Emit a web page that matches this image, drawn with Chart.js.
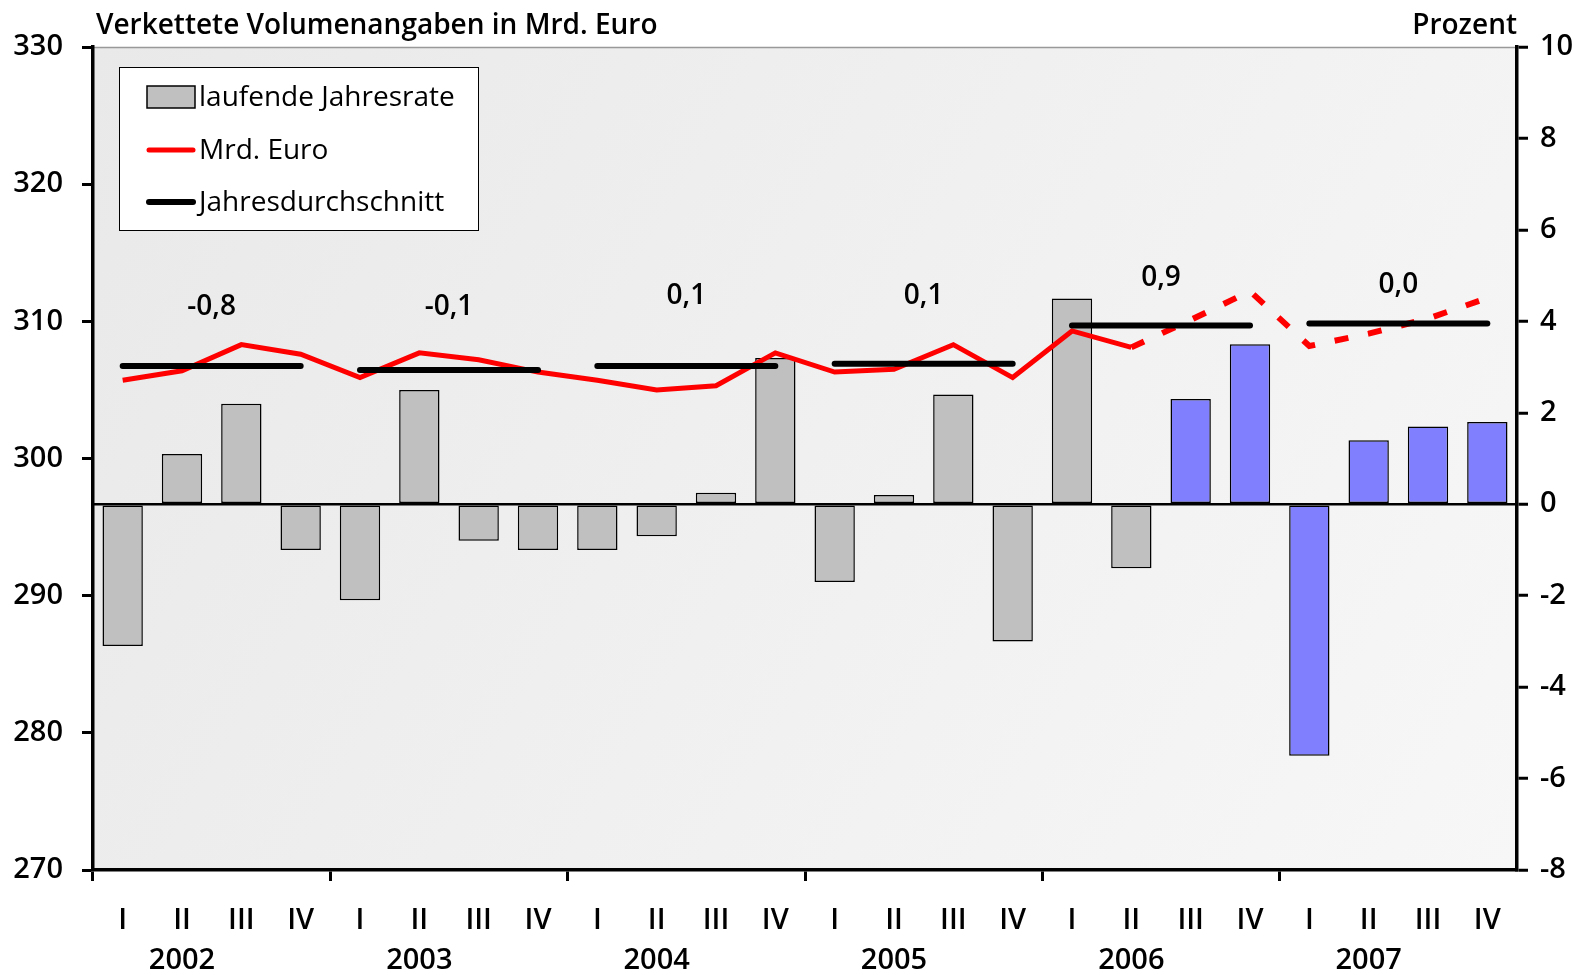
<!DOCTYPE html>
<html lang="de">
<head>
<meta charset="utf-8">
<title>Verkettete Volumenangaben in Mrd. Euro</title>
<script src="https://cdn.jsdelivr.net/npm/chart.js@4.4.1/dist/chart.umd.min.js"></script>
<style>
  html, body { margin: 0; padding: 0; background: #fff; }
  #chart { display: block; }
</style>
</head>
<body>
<canvas id="chart" width="1579" height="975"></canvas>
<script>
// Vierteljahreswerte 2002 - 2007, ab 2006 III Prognose

const FONT = "'Open Sans', 'Noto Sans', sans-serif";

const years = ['2002', '2003', '2004', '2005', '2006', '2007'];
const quarters = ['I', 'II', 'III', 'IV'];

// laufende Jahresrate in Prozent (rechte Achse)
const jahresrate = [-3.1, 1.1, 2.2, -1.0, -2.1, 2.5, -0.8, -1.0, -1.0, -0.7, 0.25, 3.2,
                    -1.7, 0.2, 2.4, -3.0, 4.5, -1.4, 2.3, 3.5, -5.5, 1.4, 1.7, 1.8];

// Mrd. Euro (linke Achse)
const mrdEuro = [305.7, 306.4, 308.3, 307.6, 305.9, 307.7, 307.2, 306.3, 305.7, 305.0, 305.3, 307.7,
                 306.3, 306.5, 308.3, 305.9, 309.3, 308.1, 310.1, 312.2, 308.2, 309.1, 310.2, 311.7];

// Jahresdurchschnitt in Mrd. Euro, je Jahr
const jahresdurchschnitt = [306.75, 306.45, 306.75, 306.9, 309.7, 309.85];
// Veraenderung gegenueber Vorjahr, als Beschriftung
const jahresVeraenderung = ['-0,8', '-0,1', '0,1', '0,1', '0,9', '0,0'];
const beschriftungHoehe = [311.05, 311.05, 311.85, 311.85, 313.15, 312.65];

const prognoseStart = 18; // erster Prognosewert: 2006 III

const leftTicks = { min: 270, max: 330, step: 10 };
const rightTicks = { min: -8, max: 10, step: 2 };

const titelLinks = 'Verkettete Volumenangaben in Mrd. Euro';
const titelRechts = 'Prozent';

const GRAY = '#c0c0c0';
const BLUE = '#8080ff';
const RED = '#ff0000';

// Jahreszahl steht unter dem II. Quartal
const categories = years.flatMap(y => quarters.map((q, j) => j === 1 ? [q, y] : q));
const durchschnittProQuartal = categories.map((_, i) => jahresdurchschnitt[Math.floor(i / 4)]);

/**
 * Hintergrund, Titel, Jahresbeschriftung und Legende
 */
const zeichnung = {
  id: 'zeichnung',
  beforeDraw(chart) {
    const { ctx, chartArea: a } = chart;
    ctx.save();
    const g = ctx.createLinearGradient(a.left, a.top, a.right, a.bottom);
    g.addColorStop(0, '#e9e9e9');
    g.addColorStop(1, '#f7f7f7');
    ctx.fillStyle = g;
    ctx.fillRect(a.left, a.top, a.right - a.left, a.bottom - a.top);
    ctx.strokeStyle = '#999';
    ctx.lineWidth = 1.5;
    ctx.beginPath();
    ctx.moveTo(a.left, a.top + 0.5);
    ctx.lineTo(a.right, a.top + 0.5);
    ctx.stroke();

    ctx.fillStyle = '#000';
    ctx.font = `600 28px ${FONT}`;
    ctx.textBaseline = 'middle';
    ctx.textAlign = 'left';
    ctx.fillText(titelLinks, a.left + 3, 26);
    ctx.textAlign = 'right';
    ctx.fillText(titelRechts, a.right, 26);
    ctx.restore();
  },
  afterDatasetsDraw(chart) {
    const { ctx } = chart;
    const xs = chart.scales.x;
    const ys = chart.scales.y;
    ctx.save();
    ctx.fillStyle = '#000';
    ctx.font = `600 28px ${FONT}`;
    ctx.textAlign = 'center';
    ctx.textBaseline = 'middle';
    jahresVeraenderung.forEach((txt, i) => {
      const x = (xs.getPixelForValue(4 * i + 1) + xs.getPixelForValue(4 * i + 2)) / 2;
      ctx.fillText(txt, x, ys.getPixelForValue(beschriftungHoehe[i]));
    });
    ctx.restore();
  },
  afterDraw(chart) {
    const { ctx } = chart;
    const ds = chart.data.datasets;
    ctx.save();
    ctx.fillStyle = '#fff';
    ctx.fillRect(119, 67, 359, 163);
    ctx.strokeStyle = '#000';
    ctx.lineWidth = 1;
    ctx.strokeRect(119.5, 67.5, 359, 163);

    const rows = [97, 150, 202];
    ctx.font = `28px ${FONT}`;
    ctx.textAlign = 'left';
    ctx.textBaseline = 'middle';
    ds.forEach((d, i) => {
      const y = rows[i];
      if (d.type === 'bar') {
        ctx.fillStyle = GRAY;
        ctx.fillRect(147, y - 11, 48, 22);
        ctx.lineWidth = 1.5;
        ctx.strokeStyle = '#000';
        ctx.strokeRect(147, y - 11, 48, 22);
      } else {
        ctx.strokeStyle = d.borderColor;
        ctx.lineWidth = d.borderWidth;
        ctx.lineCap = 'round';
        ctx.beginPath();
        ctx.moveTo(149, y);
        ctx.lineTo(193, y);
        ctx.stroke();
      }
      ctx.fillStyle = '#000';
      ctx.fillText(d.label, 199, y + 1);
    });
    ctx.restore();
  }
};

const tickFont = { family: FONT, size: 29, weight: '600' };

new Chart(document.getElementById('chart'), {
  type: 'bar',
  data: {
    labels: categories,
    datasets: [{
      type: 'bar',
      label: 'laufende Jahresrate',
      data: jahresrate,
      yAxisID: 'y1',
      backgroundColor: jahresrate.map((_, i) => i >= prognoseStart ? BLUE : GRAY),
      borderColor: '#000',
      borderWidth: 1.5,
      borderSkipped: false,
      categoryPercentage: 1,
      barPercentage: 0.68,
      order: 3
    }, {
      type: 'line',
      label: 'Mrd. Euro',
      data: mrdEuro,
      yAxisID: 'y',
      borderColor: RED,
      borderWidth: 5,
      pointRadius: 0,
      tension: 0,
      borderJoinStyle: 'miter',
      segment: {
        borderDash: ctx => ctx.p1DataIndex >= prognoseStart ? [14, 20] : undefined,
        borderWidth: ctx => ctx.p1DataIndex >= prognoseStart ? 6 : 5
      },
      order: 2
    }, {
      type: 'line',
      label: 'Jahresdurchschnitt',
      data: durchschnittProQuartal,
      yAxisID: 'y',
      borderColor: '#000',
      borderWidth: 6,
      borderCapStyle: 'round',
      pointRadius: 0,
      segment: {
        borderColor: ctx => ctx.p0DataIndex % 4 === 3 ? 'transparent' : '#000'
      },
      order: 1
    }]
  },
  options: {
    responsive: false,
    animation: false,
    layout: { padding: { top: 47, left: 0, right: 0, bottom: 0 } },
    plugins: {
      legend: { display: false },
      tooltip: { enabled: false },
      title: { display: false }
    },
    scales: {
      x: {
        position: 'bottom',
        grid: {
          drawOnChartArea: false,
          tickLength: 11,
          tickWidth: 3,
          tickColor: ctx => ctx.index % 4 === 0 ? '#000' : 'transparent'
        },
        border: { display: true, color: '#000', width: 3.5 },
        ticks: {
          color: '#000',
          font: { family: FONT, size: 29, weight: '600', lineHeight: 40 / 29 },
          padding: 20,
          autoSkip: false,
          maxRotation: 0
        },
        afterFit: s => { s.height = 105; }
      },
      y: {
        position: 'left',
        min: leftTicks.min,
        max: leftTicks.max,
        ticks: { stepSize: leftTicks.step, color: '#000', font: tickFont, padding: 19 },
        grid: { drawOnChartArea: false, tickLength: 11, tickWidth: 3, tickColor: '#000' },
        border: { display: true, color: '#000', width: 3.5 },
        afterFit: s => { s.width = 93; }
      },
      y1: {
        position: 'right',
        min: rightTicks.min,
        max: rightTicks.max,
        ticks: { stepSize: rightTicks.step, color: '#000', font: tickFont, padding: 12 },
        grid: {
          drawOnChartArea: true,
          color: ctx => (ctx.tick && ctx.tick.value === 0) ? '#000' : 'transparent',
          lineWidth: 2.5,
          tickLength: 11,
          tickWidth: 3,
          tickColor: '#000'
        },
        border: { display: true, color: '#000', width: 3.5 },
        afterFit: s => { s.width = 62; }
      }
    }
  },
  plugins: [zeichnung]
});
</script>
</body>
</html>
